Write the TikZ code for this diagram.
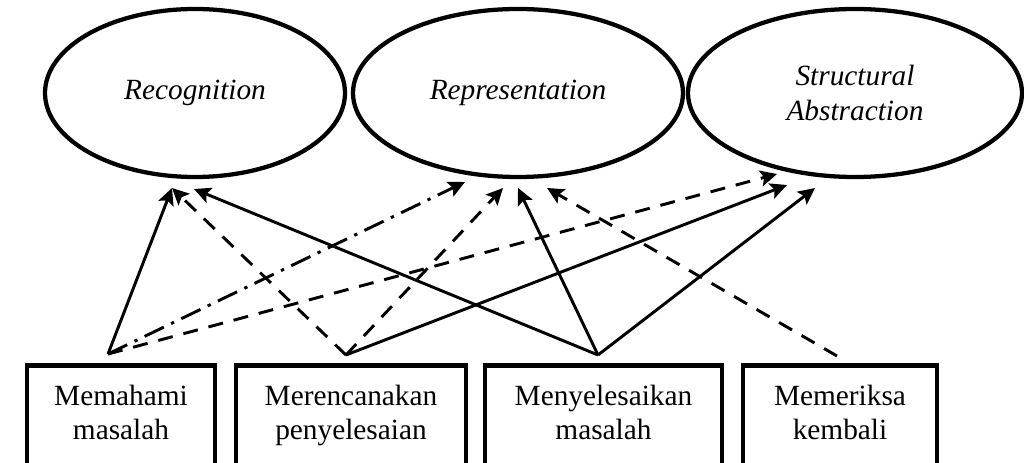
\documentclass[tikz,border=0pt]{standalone}
\usepackage{fontspec}
\setmainfont{Liberation Serif}
\usetikzlibrary{arrows.meta,shapes.geometric}
\begin{document}
\begin{tikzpicture}[x=0.75pt,y=-0.75pt,
  ell/.style={draw,line width=3.2pt,ellipse,inner sep=0pt,font=\fontsize{22}{26}\selectfont\itshape,align=center},
  box/.style={draw,line width=3.6pt,rectangle,inner sep=0pt,minimum height=75.75pt,font=\fontsize{22}{25.5}\selectfont,align=center},
  con/.style={line width=2.2pt,-{Stealth[length=12.5pt,width=12pt,inset=2.5pt]}},
  dsh/.style={con,dash pattern=on 11.25pt off 8.25pt},
  dshdot/.style={con,dash pattern=on 16pt off 6pt on 2.5pt off 6pt}]
\useasboundingbox (0,0) rectangle (1024,463);
% ellipses
\node[ell,minimum width=225pt,minimum height=126pt] (rec) at (195,93) {Recognition};
\node[ell,minimum width=247.5pt,minimum height=126pt] (rep) at (518,93) {Representation};
\node[ell,minimum width=250.5pt,minimum height=126pt] (str) at (855,93) {Structural\\Abstraction};
% boxes
\node[box,minimum width=141pt] (b1) at (121,416) {Memahami\strut\\masalah\strut};
\node[box,minimum width=172.5pt] (b2) at (351,416) {Merencanakan\strut\\penyelesaian\strut};
\node[box,minimum width=177.75pt] (b3) at (603.5,416) {Menyelesaikan\strut\\masalah\strut};
\node[box,minimum width=145.5pt] (b4) at (840,416) {Memeriksa\strut\\kembali\strut};
% connector ends
\coordinate (o1) at (108,354);
\coordinate (o2) at (346,355);
\coordinate (o3) at (598,355);
\coordinate (o4) at (837,356);
\coordinate (ra) at (172,188);
\coordinate (rb) at (194,189);
\coordinate (pa) at (465,182);
\coordinate (pb) at (503,188);
\coordinate (pc) at (518,188);
\coordinate (pd) at (547,188);
\coordinate (sa) at (777,174);
\coordinate (sb) at (787,185);
\coordinate (sc) at (815,188);
% connectors
\draw[con] (o1) -- (ra);
\draw[dshdot] (o1) -- (pa);
\draw[dsh] (o1) -- (sa);
\draw[dsh] (o2) -- (ra);
\draw[dsh] (o2) -- (pb);
\draw[con] (o2) -- (sb);
\draw[con] (o3) -- (rb);
\draw[con] (o3) -- (pc);
\draw[con] (o3) -- (sc);
\draw[dsh] (o4) -- (pd);
\end{tikzpicture}
\end{document}
